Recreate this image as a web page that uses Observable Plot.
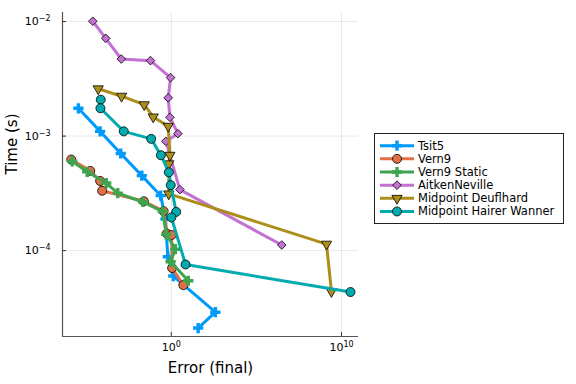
<!DOCTYPE html>
<html><head><meta charset="utf-8">
<script src="https://cdn.jsdelivr.net/npm/d3@7"></script>
<script src="https://cdn.jsdelivr.net/npm/@observablehq/plot@0.6"></script>
<style>body{margin:0;background:#fff;} svg{display:block}</style>
</head><body><div id="chart"></div>
<script>
const seriesNames = ["Tsit5", "Vern9", "Vern9 Static", "AitkenNeville", "Midpoint Deuflhard", "Midpoint Hairer Wanner"];
const seriesColors = ["#009AFA", "#E36F47", "#3EA44E", "#C371D2", "#AC8E18", "#00AAAE"];

const tsit5Err  = [3.5e-6, 6.6e-5, 1.07e-3, 1.86e-2, 0.24, 0.457, 0.63, 1.32, 389, 38];
const tsit5Time = [1.75e-3, 1.10e-3, 7.05e-4, 4.52e-4, 3.02e-4, 1.89e-4, 8.85e-5, 6.0e-5, 2.9e-5, 2.11e-5];

const vern9Err  = [1.32e-6, 1.74e-5, 6.6e-5, 8.7e-5, 2.45e-2, 0.355, 0.55, 1.05, 1.12, 5.1];
const vern9Time = [6.24e-4, 4.97e-4, 4.06e-4, 3.33e-4, 2.70e-4, 2.21e-4, 1.41e-4, 1.37e-4, 7.05e-5, 5.0e-5];

const vern9sErr  = [1.51e-6, 1.15e-5, 1.51e-4, 7.2e-4, 2.19e-2, 0.316, 0.51, 1.74, 0.91, 10];
const vern9sTime = [6.03e-4, 4.88e-4, 3.89e-4, 3.18e-4, 2.66e-4, 2.19e-4, 1.39e-4, 1.03e-4, 8.0e-5, 5.46e-5];

const aitkenErr  = [2.45e-5, 1.41e-4, 1.15e-3, 6.0e-2, 0.91, 0.66, 0.83, 2.45, 0.48, 3.2, 3.1e6];
const aitkenTime = [1.007e-2, 7.14e-3, 4.71e-3, 4.56e-3, 3.24e-3, 2.16e-3, 1.46e-3, 1.05e-3, 9.0e-4, 3.41e-4, 1.12e-4];

const deufErr  = [5.1e-5, 1.2e-3, 2.57e-2, 8.7e-2, 0.66, 0.83, 0.72, 0.72, 1.32e9, 2.57e9];
const deufTime = [2.59e-3, 2.23e-3, 1.88e-3, 1.47e-3, 1.22e-3, 6.81e-4, 5.73e-4, 3.13e-4, 1.14e-4, 4.4e-5];

const hwErr  = [7.2e-5, 6.9e-5, 1.62e-3, 6.6e-2, 0.245, 0.72, 0.93, 1.95, 1.02, 6.9, 3.4e10];
const hwTime = [2.08e-3, 1.75e-3, 1.10e-3, 9.46e-4, 6.81e-4, 4.83e-4, 3.73e-4, 2.18e-4, 1.95e-4, 7.57e-5, 4.35e-5];

const xTicks = [1, 1e10];
const yTicks = [1e-4, 1e-3, 1e-2];
const xLabel = "Error (final)";
const yLabel = "Time (s)";

const errs = [tsit5Err, vern9Err, vern9sErr, aitkenErr, deufErr, hwErr];
const times = [tsit5Time, vern9Time, vern9sTime, aitkenTime, deufTime, hwTime];

const markers = [
  {symbol: "cross", d3sym: d3.symbolCross, r: 4.3, stroke: "none"},
  {symbol: "circle", d3sym: d3.symbolCircle, r: 4.5, stroke: "black"},
  {symbol: "cross", d3sym: d3.symbolCross, r: 4.3, stroke: "none"},
  {symbol: "diamond2", d3sym: d3.symbolDiamond2, r: 3.9, stroke: "black"},
  {symbol: "triangle", d3sym: d3.symbolTriangle, r: 3.8, stroke: "black", rotate: 180},
  {symbol: "circle", d3sym: d3.symbolCircle, r: 4.5, stroke: "black"}
];

const fmtPow = v => "10^" + String(Math.round(Math.log10(v))).replace("-", "\u2212");

const tables = errs.map((arr, s) => arr.map((e, i) => ({series: seriesNames[s], err: e, time: times[s][i]})));

const marks = [
  Plot.gridX(xTicks, {stroke: "#000", strokeOpacity: 0.09, strokeWidth: 1}),
  Plot.gridY(yTicks, {stroke: "#000", strokeOpacity: 0.09, strokeWidth: 1}),
];
tables.forEach((t, s) => {
  const m = markers[s];
  marks.push(Plot.line(t, {x: "err", y: "time", stroke: seriesColors[s], strokeWidth: 3, curve: "linear"}));
  const dotOpts = {x: "err", y: "time", symbol: m.symbol, r: m.r, fill: seriesColors[s]};
  if (m.stroke !== "none") { dotOpts.stroke = m.stroke; dotOpts.strokeWidth = 0.8; } else { dotOpts.stroke = null; }
  if (m.rotate) dotOpts.rotate = m.rotate;
  marks.push(Plot.dot(t, dotOpts));
});
marks.push(
  Plot.ruleX([4.07e-7], {stroke: "#555", strokeWidth: 1.2}),
  Plot.ruleY([1.78e-5], {stroke: "#555", strokeWidth: 1.2}),
  Plot.ruleX(xTicks, {stroke: "#333", strokeWidth: 1, insetTop: 320}),
  Plot.ruleY(yTicks, {stroke: "#333", strokeWidth: 1, insetRight: 292}),
  Plot.axisX(xTicks, {tickSize: 0, tickPadding: 7, tickFormat: fmtPow, label: null, fontSize: 11, dx: 0}),
  Plot.axisY(yTicks, {tickSize: 0, tickPadding: 12, tickFormat: fmtPow, label: null, fontSize: 11}),
  Plot.text([xLabel], {frameAnchor: "bottom", dy: 36, fontSize: 15, fill: "#000"}),
  Plot.text([yLabel], {frameAnchor: "left", dx: -50, rotate: -90, fontSize: 15, fill: "#000"})
);

const chart = Plot.plot({
  width: 576, height: 384,
  marginLeft: 62, marginRight: 218, marginTop: 12, marginBottom: 48,
  style: {fontFamily: "DejaVu Sans", fontSize: "11px", background: "white", color: "#000"},
  x: {type: "log", domain: [4.07e-7, 1e11], axis: null},
  y: {type: "log", domain: [1.78e-5, 1.2e-2], axis: null},
  marks
});

const svg = d3.select(chart);

// turn "10^e" tick labels into 10 with a superscript exponent
svg.selectAll("text").each(function () {
  const el = d3.select(this);
  const txt = this.textContent;
  if (!/^10\^/.test(txt)) return;
  const exp = txt.slice(3);
  const isX = this.closest("[aria-label='x-axis tick label']") !== null;
  el.text(null);
  if (isX) el.attr("dx", null);
  el.append("tspan").text("10");
  el.append("tspan").attr("font-size", "8px").attr("dy", "-0.5em").text(exp);
});

// legend
const lg = svg.append("g").attr("font-family", "DejaVu Sans").attr("font-size", 11.5).attr("text-anchor", "start");
lg.append("rect").attr("x", 374.5).attr("y", 133.5).attr("width", 189).attr("height", 90)
  .attr("fill", "white").attr("stroke", "#222").attr("stroke-width", 1);
seriesNames.forEach((name, i) => {
  const y = 145.7 + i * 13.15;
  const m = markers[i];
  lg.append("line").attr("x1", 380).attr("x2", 414).attr("y1", y).attr("y2", y)
    .attr("stroke", seriesColors[i]).attr("stroke-width", 3);
  lg.append("path").attr("d", d3.symbol(m.d3sym, Math.PI * m.r * m.r)())
    .attr("transform", `translate(397,${y})` + (m.rotate ? ` rotate(${m.rotate})` : ""))
    .attr("fill", seriesColors[i])
    .attr("stroke", m.stroke === "none" ? "none" : "black").attr("stroke-width", 0.8);
  lg.append("text").attr("x", 418).attr("y", y).attr("dy", "0.35em").attr("fill", "#000").text(name);
});

document.getElementById("chart").appendChild(chart);
</script>
</body></html>
